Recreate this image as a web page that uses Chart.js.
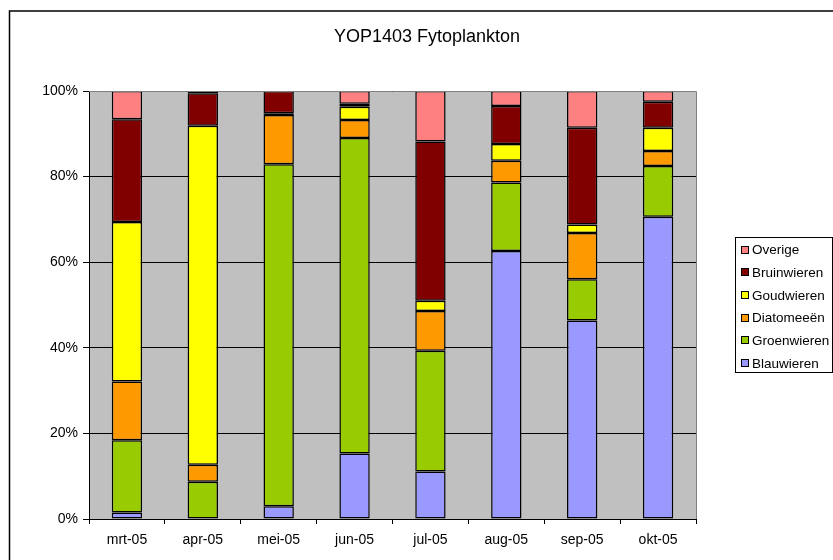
<!DOCTYPE html>
<html>
<head>
<meta charset="utf-8">
<script src="https://cdn.jsdelivr.net/npm/chart.js@4.4.1/dist/chart.umd.min.js"></script>
<style>
  body { margin: 0; background: #fff; }
  canvas { display: block; }
</style>
</head>
<body>
<canvas id="chart" width="833" height="560"></canvas>
<script>
// maanden
var maanden = ["mrt-05", "apr-05", "mei-05", "jun-05", "jul-05", "aug-05", "sep-05", "okt-05"];

// aandeel per groep (%)
var blauwieren  = [1.5, 0.0, 3.0, 15.3, 11.1, 62.6, 46.4, 70.6];
var groenwieren = [16.9, 8.7, 79.9, 73.7, 28.2, 16.0, 9.6, 11.9];
var diatomeeen  = [13.7, 4.0, 11.5, 4.2, 9.3, 5.1, 10.8, 3.5];
var goudwieren  = [37.3, 79.2, 0.4, 3.1, 2.4, 3.9, 2.0, 5.4];
var bruinwieren = [24.0, 7.6, 5.2, 0.7, 37.2, 8.9, 22.6, 6.1];
var overige     = [6.6, 0.5, 0.0, 3.0, 11.8, 3.5, 8.6, 2.5];

var yTicks = [0, 20, 40, 60, 80, 100];

var fontFam = "'Liberation Sans', Arial, sans-serif";

function serie(label, data, kleur) {
  return {
    label: label,
    data: data,
    backgroundColor: kleur,
    borderColor: "#000000",
    borderWidth: 1.5,
    borderSkipped: false,
    barPercentage: 0.4,
    categoryPercentage: 1.0
  };
}

// kader, titel en legenda
var extras = {
  id: "extras",
  beforeDraw: function(chart) {
    var ctx = chart.ctx;
    var a = chart.chartArea;
    ctx.save();
    ctx.fillStyle = "#ffffff";
    ctx.fillRect(0, 0, chart.width, chart.height);
    ctx.fillStyle = "#c0c0c0";
    ctx.fillRect(a.left, a.top, a.right - a.left, a.bottom - a.top);
    ctx.restore();
  },
  afterDraw: function(chart) {
    var ctx = chart.ctx;
    var a = chart.chartArea;
    ctx.save();

    // rand plotgebied
    ctx.strokeStyle = "#808080";
    ctx.lineWidth = 1;
    ctx.beginPath();
    ctx.moveTo(a.left, a.top + 0.5);
    ctx.lineTo(a.right + 0.5, a.top + 0.5);
    ctx.lineTo(a.right + 0.5, a.bottom);
    ctx.stroke();

    // buitenkader
    ctx.strokeStyle = "#000000";
    ctx.lineWidth = 1.5;
    ctx.beginPath();
    ctx.moveTo(9.5, chart.height);
    ctx.lineTo(9.5, 11);
    ctx.lineTo(chart.width, 11);
    ctx.stroke();

    // titel
    ctx.fillStyle = "#000000";
    ctx.font = "18px " + fontFam;
    ctx.textAlign = "center";
    ctx.textBaseline = "middle";
    ctx.fillText("YOP1403 Fytoplankton", 427, 37);

    // legenda
    ctx.lineWidth = 1;
    ctx.strokeStyle = "#000000";
    ctx.strokeRect(735.5, 237.5, 97, 135);
    ctx.font = "13.5px " + fontFam;
    ctx.textAlign = "left";
    var sets = chart.data.datasets.slice().reverse();
    for (var i = 0; i < sets.length; i++) {
      var y = 249.5 + i * 22.7;
      ctx.fillStyle = sets[i].backgroundColor;
      ctx.fillRect(741.5, Math.round(y) - 3.5, 7, 7);
      ctx.strokeRect(741.5, Math.round(y) - 3.5, 7, 7);
      ctx.fillStyle = "#000000";
      ctx.fillText(sets[i].label, 752, y + 1);
    }
    ctx.restore();
  }
};

new Chart(document.getElementById("chart"), {
  type: "bar",
  data: {
    labels: maanden,
    datasets: [
      serie("Blauwieren", blauwieren, "#9999ff"),
      serie("Groenwieren", groenwieren, "#99cc00"),
      serie("Diatomeeën", diatomeeen, "#ff9900"),
      serie("Goudwieren", goudwieren, "#ffff00"),
      serie("Bruinwieren", bruinwieren, "#800000"),
      serie("Overige", overige, "#ff8080")
    ]
  },
  options: {
    responsive: false,
    animation: false,
    layout: {
      padding: { left: 0, right: 137, top: 91, bottom: 0 }
    },
    plugins: {
      legend: { display: false },
      title: { display: false },
      tooltip: { enabled: false }
    },
    scales: {
      x: {
        stacked: true,
        offset: true,
        grid: {
          offset: true,
          drawOnChartArea: false,
          drawTicks: true,
          tickLength: 5,
          color: "#000000"
        },
        border: { display: true, color: "#000000", width: 1 },
        ticks: {
          color: "#000000",
          font: { family: fontFam, size: 14 },
          padding: 8,
          maxRotation: 0,
          autoSkip: false
        },
        afterFit: function(scale) { scale.height = 41; }
      },
      y: {
        stacked: true,
        min: 0,
        max: 100,
        afterBuildTicks: function(scale) {
          scale.ticks = yTicks.map(function(v) { return { value: v }; });
        },
        grid: {
          color: "#000000",
          lineWidth: 1,
          drawTicks: true,
          tickLength: 6
        },
        border: { display: true, color: "#000000", width: 1 },
        ticks: {
          color: "#000000",
          font: { family: fontFam, size: 14 },
          padding: 5,
          callback: function(v) { return v + "%"; }
        },
        afterFit: function(scale) { scale.width = 89; }
      }
    }
  },
  plugins: [extras]
});
</script>
</body>
</html>
